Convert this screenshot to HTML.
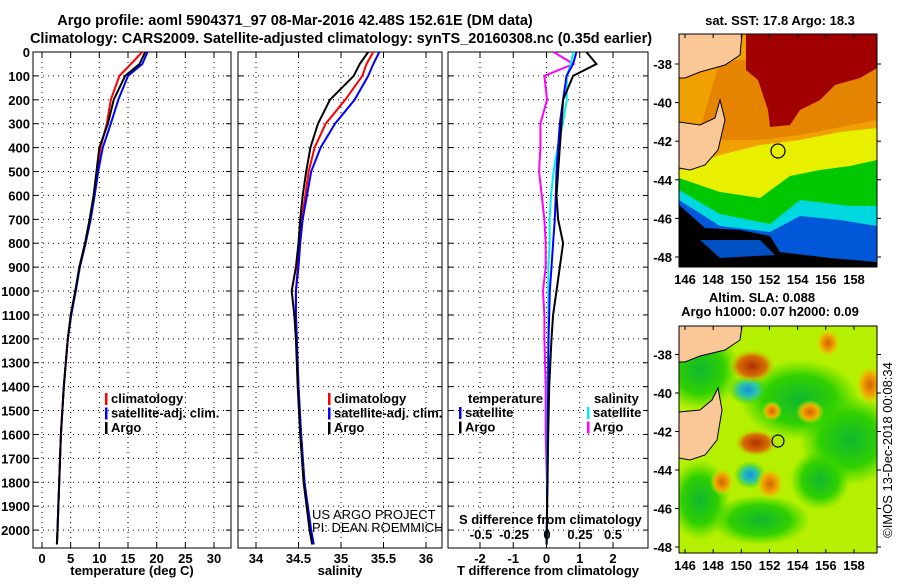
<!DOCTYPE html>
<html><head><meta charset="utf-8"><style>
body{margin:0;background:#fff}
svg{font-family:"Liberation Sans",Arial,sans-serif;font-weight:bold;font-size:13px}
</style></head><body>
<svg id="c" width="900" height="580" viewBox="0 0 900 580" xmlns="http://www.w3.org/2000/svg">
<text x="295" y="25" text-anchor="middle" font-size="14.5">Argo profile: aoml 5904371_97 08-Mar-2016 42.48S 152.61E (DM data)</text>
<text x="341" y="43" text-anchor="middle" font-size="14.5">Climatology: CARS2009. Satellite-adjusted climatology: synTS_20160308.nc (0.35d earlier)</text>
<g id="panels"></g>
<g id="maps">
 <text x="780" y="25" text-anchor="middle">sat. SST: 17.8 Argo: 18.3</text>
 <svg x="679" y="34" width="198" height="233" viewBox="679 34 198 233">
  <rect x="679" y="34" width="198" height="233" fill="#f0a000"/>
  <polygon fill="#d86800" points="720,60 877,60 877,120 800,135 760,140 720,140 700,130" opacity="0.5"/>
  <polygon fill="#a00000" points="746,34 877,34 877,68 860,78 835,85 820,100 800,110 790,125 770,127 768,110 758,80 746,70"/>
  <polygon fill="#e8f000" points="679,170 720,155 760,145 800,140 840,132 877,128 877,267 679,267"/>
  <polygon fill="#00c800" points="679,178 720,192 760,198 790,176 820,170 850,166 877,160 877,267 679,267"/>
  <polygon fill="#00d8e0" points="679,190 720,214 770,224 800,200 850,206 877,206 877,267 679,267"/>
  <polygon fill="#0058d8" points="679,200 720,226 770,232 800,216 840,220 877,226 877,267 679,267"/>
  <polygon fill="#000" points="679,205 705,228 740,230 770,236 780,252 830,258 877,262 877,267 679,267"/>
  <polygon fill="#0058d8" points="700,240 760,240 775,255 720,258" opacity="0.9"/>
  <polygon fill="#f9c896" stroke="#000" stroke-width="1" points="679,34 742,34 740,55 725,65 700,72 685,78 679,78"/>
  <polygon fill="#f9c896" stroke="#000" stroke-width="1" points="679,122 700,125 715,118 720,100 725,120 718,150 705,165 690,170 679,168"/>
  <circle cx="778" cy="151" r="7" fill="none" stroke="#000" stroke-width="1.2"/>
 </svg>
 <rect x="679" y="34" width="198" height="233" fill="none" stroke="#000"/>
 <text x="762" y="302" text-anchor="middle">Altim. SLA: 0.088</text>
 <text x="770" y="316" text-anchor="middle">Argo h1000: 0.07 h2000: 0.09</text>
 <svg x="679" y="326" width="198" height="227" viewBox="679 326 198 227">
  <defs>
   <radialGradient id="gr"><stop offset="0" stop-color="#b03000"/><stop offset="0.6" stop-color="#d87000"/><stop offset="1" stop-color="#c0f000" stop-opacity="0"/></radialGradient>
   <radialGradient id="go"><stop offset="0" stop-color="#d86000"/><stop offset="0.6" stop-color="#f0b000"/><stop offset="1" stop-color="#c0f000" stop-opacity="0"/></radialGradient>
   <radialGradient id="gg"><stop offset="0" stop-color="#10b830"/><stop offset="0.6" stop-color="#30d000"/><stop offset="1" stop-color="#40d800" stop-opacity="0"/></radialGradient>
   <radialGradient id="gb"><stop offset="0" stop-color="#1090e0"/><stop offset="0.5" stop-color="#30c8a0"/><stop offset="1" stop-color="#30d000" stop-opacity="0"/></radialGradient>
  </defs>
  <rect x="679" y="326" width="198" height="227" fill="#b4f000"/>
  <ellipse cx="700" cy="370" rx="40" ry="40" fill="url(#gg)"/>
  <ellipse cx="800" cy="400" rx="60" ry="40" fill="url(#gg)"/>
  <ellipse cx="850" cy="440" rx="50" ry="45" fill="url(#gg)"/>
  <ellipse cx="760" cy="520" rx="50" ry="25" fill="url(#gg)"/>
  <ellipse cx="700" cy="500" rx="30" ry="40" fill="url(#gg)"/>
  <ellipse cx="820" cy="480" rx="30" ry="30" fill="url(#gg)"/>
  <ellipse cx="748" cy="390" rx="20" ry="15" fill="url(#gb)"/>
  <ellipse cx="750" cy="475" rx="16" ry="14" fill="url(#gb)"/>
  <ellipse cx="752" cy="366" rx="24" ry="17" fill="url(#gr)"/>
  <ellipse cx="756" cy="443" rx="22" ry="14" fill="url(#gr)"/>
  <ellipse cx="770" cy="484" rx="14" ry="16" fill="url(#go)"/>
  <ellipse cx="722" cy="482" rx="12" ry="14" fill="url(#go)"/>
  <ellipse cx="828" cy="343" rx="12" ry="14" fill="url(#go)"/>
  <ellipse cx="810" cy="412" rx="14" ry="12" fill="url(#go)"/>
  <ellipse cx="772" cy="411" rx="10" ry="10" fill="url(#go)"/>
  <ellipse cx="870" cy="385" rx="14" ry="20" fill="url(#go)"/>
  <polygon fill="#f9c896" stroke="#000" stroke-width="1" points="679,326 742,326 740,340 725,350 700,356 685,362 679,362"/>
  <polygon fill="#f9c896" stroke="#000" stroke-width="1" points="679,412 700,410 712,400 718,388 722,410 717,440 705,455 690,460 679,458"/>
  <circle cx="778" cy="441" r="6" fill="none" stroke="#000" stroke-width="1.2"/>
 </svg>
 <rect x="679" y="326" width="198" height="227" fill="none" stroke="#000"/>
 <text transform="translate(892,450) rotate(-90)" text-anchor="middle" font-size="13" font-weight="normal">©IMOS 13-Dec-2018 00:08:34</text>
</g>
</svg>
<script>
const depths=[0,50,100,200,300,400,500,600,700,800,900,1000,1100,1200,1400,1600,1800,2000,2060];
const tempArgo=[18,17,14.5,12.5,11.5,10,9.5,9,8.3,7.5,6.5,5.8,5,4.5,3.8,3.3,3,2.7,2.6];
const tempClim=[17.5,15.5,13.5,12,11.3,10.2,9.6,9.1,8.4,7.6,6.6,5.8,5.1,4.5,3.8,3.3,3,2.7,2.6];
const tempSat=[18.4,17.5,15,13.3,12,10.6,9.8,9.2,8.5,7.6,6.6,5.9,5.1,4.5,3.8,3.3,3,2.7,2.6];
const salArgo=[35.32,35.22,35.15,34.87,34.73,34.64,34.59,34.55,34.52,34.5,34.47,34.42,34.45,34.47,34.49,34.52,34.56,34.63,34.66];
const salClim=[35.38,35.3,35.25,35.05,34.82,34.69,34.62,34.58,34.54,34.51,34.49,34.47,34.47,34.48,34.5,34.53,34.57,34.64,34.67];
const salSat=[35.45,35.38,35.32,35.16,34.93,34.76,34.65,34.6,34.55,34.52,34.5,34.47,34.47,34.48,34.5,34.53,34.57,34.65,34.68];
const tdiffArgo=[1.2,1.5,0.8,0.5,0.45,0.4,0.35,0.3,0.35,0.5,0.4,0.3,0.2,0.15,0.08,0.05,0.03,0.01,0];
const tdiffSat=[0.9,0.8,0.6,0.5,0.4,0.35,0.3,0.28,0.25,0.2,0.15,0.1,0.08,0.06,0.05,0.03,0.02,0.01,0];
const sdiffSat=[0.2,0.18,0.15,0.15,0.12,0.08,0.05,0.03,0.02,0.02,0.01,0.01,0.01,0.01,0.005,0,0,0,0];
const sdiffArgo=[0.05,0.2,-0.02,0,-0.05,-0.05,-0.06,-0.04,-0.02,-0.01,-0.01,-0.03,-0.02,-0.02,-0.01,-0.01,0,0,0];
const depthTicks=[0,100,200,300,400,500,600,700,800,900,1000,1100,1200,1300,1400,1500,1600,1700,1800,1900,2000];
const tempTicks=[0,5,10,15,20,25,30];
const salTicks=[34,34.5,35,35.5,36];
const tdTicks=[-2,-1,0,1,2];
const sdTicks=[-0.5,-0.25,0,0.25,0.5];
const sdTickLabels=['-0.5','-0.25','0','0.25','0.5'];

const NS='http://www.w3.org/2000/svg';
const root=document.getElementById('panels');
const TOP=52,BOT=548;
const yS=d=>TOP+d*(BOT-TOP)/2075;
function mk(tag,attrs,parent){const e=document.createElementNS(NS,tag);for(const k in attrs)e.setAttribute(k,attrs[k]);(parent||root).appendChild(e);return e;}
function lin(v0,p0,v1,p1){return v=>p0+(v-v0)*(p1-p0)/(v1-v0);}
function line(vals,xs,color,name,g){
  const pts=vals.map((v,i)=>xs(v).toFixed(1)+','+yS(depths[i]).toFixed(1)).join(' ');
  const p=mk('polyline',{points:pts,fill:'none',stroke:color,'stroke-width':2},g);
  
  
}
function panel(x0,x1,xs,ticks,labels,title,name,showDepth){
  const g=mk('g',{});
  
  
  depthTicks.forEach(d=>{
    mk('line',{x1:x0,x2:x1,y1:yS(d),y2:yS(d),stroke:'#000','stroke-dasharray':'1,4','stroke-width':1},g);
    mk('line',{x1:x0,x2:x0+5,y1:yS(d),y2:yS(d),stroke:'#000'},g);
    mk('line',{x1:x1-5,x2:x1,y1:yS(d),y2:yS(d),stroke:'#000'},g);
    if(showDepth){const t=mk('text',{x:x0-3,y:yS(d)+5,'text-anchor':'end'},g);t.textContent=d;
      
      }
  });
  ticks.forEach((v,i)=>{
    const x=xs(v);
    mk('line',{x1:x,x2:x,y1:TOP,y2:BOT,stroke:'#000','stroke-dasharray':'1,4'},g);
    mk('line',{x1:x,x2:x,y1:BOT-5,y2:BOT,stroke:'#000'},g);
    mk('line',{x1:x,x2:x,y1:TOP,y2:TOP+5,stroke:'#000'},g);
    if(labels){const t=mk('text',{x:x,y:BOT+15,'text-anchor':'middle'},g);t.textContent=labels[i];
      
      }
  });
  mk('rect',{x:x0,y:TOP,width:x1-x0,height:BOT-TOP,fill:'none',stroke:'#000'},g);
  const t=mk('text',{x:(x0+x1)/2,y:575,'text-anchor':'middle'},g);t.textContent=title;
  
  
  return g;
}
function legend(g,x,y,items){
  items.forEach((it,i)=>{
    mk('rect',{x:x,y:y+i*14.5-10,width:2.5,height:12,fill:it[1]},g);
    const t=mk('text',{x:x+6,y:y+i*14.5},g);t.textContent=it[0];
    
    
  });
}
const xT=lin(0,42,30,214);
const g1=panel(33,231,xT,tempTicks,tempTicks.map(String),'temperature (deg C)','temperature-panel',true);
line(tempClim,xT,'#f00','temp-climatology-line',g1);
line(tempSat,xT,'#00f','temp-satellite-line',g1);
line(tempArgo,xT,'#000','temp-argo-line',g1);
legend(g1,105,403,[['climatology','#f00'],['satellite-adj. clim.','#00f'],['Argo','#000']]);
const xSal=lin(34,256,36,426);
const g2=panel(238,442,xSal,salTicks,salTicks.map(String),'salinity','salinity-panel',false);
line(salClim,xSal,'#f00','sal-climatology-line',g2);
line(salSat,xSal,'#00f','sal-satellite-line',g2);
line(salArgo,xSal,'#000','sal-argo-line',g2);
legend(g2,328,403,[['climatology','#f00'],['satellite-adj. clim.','#00f'],['Argo','#000']]);
let t=mk('text',{x:312,y:519,'font-weight':'normal','font-size':13},g2);t.textContent='US ARGO PROJECT';


t=mk('text',{x:312,y:532,'font-weight':'normal','font-size':13},g2);t.textContent='PI: DEAN ROEMMICH';


const xTd=lin(-2,480,2,613);
const xSd=lin(-0.5,481,0.5,613);
const g3=panel(448,648,xTd,tdTicks,tdTicks.map(String),'T difference from climatology','difference-panel',false);
line(sdiffArgo,xSd,'#f0f','sdiff-argo-line',g3);
line(sdiffSat,xSd,'#0ee','sdiff-satellite-line',g3);
line(tdiffSat,xTd,'#00f','tdiff-satellite-line',g3);
line(tdiffArgo,xTd,'#000','tdiff-argo-line',g3);
t=mk('text',{x:468,y:403},g3);t.textContent='temperature';


t=mk('text',{x:594,y:403},g3);t.textContent='salinity';


legend(g3,459,417,[['satellite','#00f'],['Argo','#000']]);
legend(g3,587,417,[['satellite','#0ee'],['Argo','#f0f']]);
t=mk('text',{x:459,y:524},g3);t.textContent='S difference from climatology';


sdTicks.forEach((v,i)=>{const e=mk('text',{x:xSd(v),y:539,'text-anchor':'middle'},g3);e.textContent=sdTickLabels[i];
  
  });
const maps=document.getElementById('maps');
const lonTicks=[146,148,150,152,154,156,158];
const latTicks=[-38,-40,-42,-44,-46,-48];
function mapAxes(top,bot,latY0,latPx){
  lonTicks.forEach(l=>{const x=685+(l-146)*14.08;
    mk('line',{x1:x,x2:x,y1:bot,y2:bot-4,stroke:'#000'},maps);
    mk('line',{x1:x,x2:x,y1:top,y2:top+4,stroke:'#000'},maps);
    const e=mk('text',{x:x,y:bot+17,'text-anchor':'middle'},maps);e.textContent=l;
    
    });
  latTicks.forEach(l=>{const y=latY0+(-38-l)*latPx;
    mk('line',{x1:679,x2:675,y1:y,y2:y,stroke:'#000'},maps);
    mk('line',{x1:877,x2:881,y1:y,y2:y,stroke:'#000'},maps);
    const e=mk('text',{x:672,y:y+5,'text-anchor':'end'},maps);e.textContent=l;
    
    });
}
mapAxes(34,267,64,19.3);
mapAxes(326,553,354.5,19.25);
</script>
</body></html>
